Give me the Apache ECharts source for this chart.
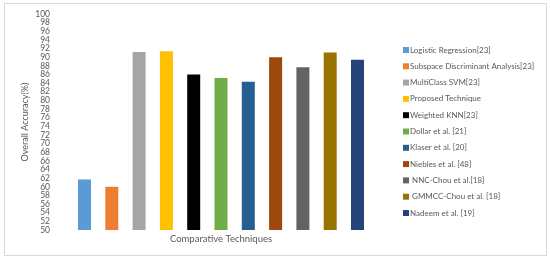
<!DOCTYPE html>
<html>
<head>
<meta charset="utf-8">
<script src="https://cdn.jsdelivr.net/npm/echarts@6/dist/echarts.min.js"></script>
<style>
  * { box-sizing: border-box; margin: 0; padding: 0; }
  body { width: 550px; height: 259px; background: #fff; }
  #frame { position: absolute; left: 4px; top: 3px; width: 543px; height: 253px; border: 1px solid #d9d9d9; }
  #chart { position: absolute; left: 0; top: 0; width: 550px; height: 259px; }
</style>
</head>
<body>
<div id="frame"></div>
<div id="chart"></div>
<script>
  // data
  const categories = ['Comparative Techniques'];
  const methods = [
    'Logistic Regression[23]',
    'Subspace Discriminant Analysis[23]',
    'MultiClass SVM[23]',
    'Proposed Technique',
    'Weighted KNN[23]',
    'Dollar et al. [21]',
    'Klaser et al. [20]',
    'Niebles et al. [48]',
    ' NNC-Chou et al.[18]',
    ' GMMCC-Chou et al. [18]',
    'Nadeem et al. [19]'
  ];
  const accuracy = [61.7, 60.0, 91.2, 91.4, 86.0, 85.2, 84.3, 90.0, 87.7, 91.1, 89.4];
  const colors = ['#5b9bd5', '#ed7d31', '#a5a5a5', '#ffc000', '#000000', '#70ad47',
                  '#255e91', '#9e480e', '#636363', '#997300', '#264478'];
  const yMin = 50;
  const yMax = 100;
  const yStep = 2;

  const myChart = echarts.init(document.getElementById('chart'));

  const series = methods.map((name, i) => ({
    name: name,
    type: 'bar',
    barWidth: 13,
    barGap: '110%',
    itemStyle: { color: colors[i] },
    data: [accuracy[i]]
  }));

  const labelStyle = { color: '#595959', fontSize: 8.5, margin: 7, hideOverlap: false };

  const option = {
    animation: false,
    textStyle: { fontFamily: 'Lato' },
    legend: {
      orient: 'vertical',
      left: 398,
      top: 40,
      itemWidth: 6,
      itemHeight: 6,
      itemGap: 6.3,
      icon: 'rect',
      textStyle: { color: '#595959', fontSize: 8, lineHeight: 10, padding: [0, 0, 0, -4] },
      data: methods
    },
    grid: { left: 57, top: 14, width: 328, height: 216 },
    xAxis: {
      type: 'category',
      data: categories,
      axisLine: { show: false },
      axisTick: { show: false },
      axisLabel: { color: '#595959', fontSize: 9.5, margin: 4 }
    },
    yAxis: [
      {
        type: 'value',
        min: yMin,
        max: yMax,
        interval: yStep,
        name: 'Overall Accuracy(%)',
        nameLocation: 'middle',
        nameGap: 27,
        nameTextStyle: { color: '#595959', fontSize: 9 },
        splitLine: { show: false },
        axisLine: { show: false },
        axisTick: { show: false },
        axisLabel: Object.assign({ showMinLabel: false, showMaxLabel: false }, labelStyle)
      },
      {
        // only the end labels (50 and 100), which the first axis drops
        type: 'value',
        position: 'left',
        min: yMin,
        max: yMax,
        interval: yMax - yMin,
        splitLine: { show: false },
        axisLine: { show: false },
        axisTick: { show: false },
        axisLabel: labelStyle
      }
    ],
    series: series
  };

  myChart.setOption(option);
</script>
</body>
</html>
